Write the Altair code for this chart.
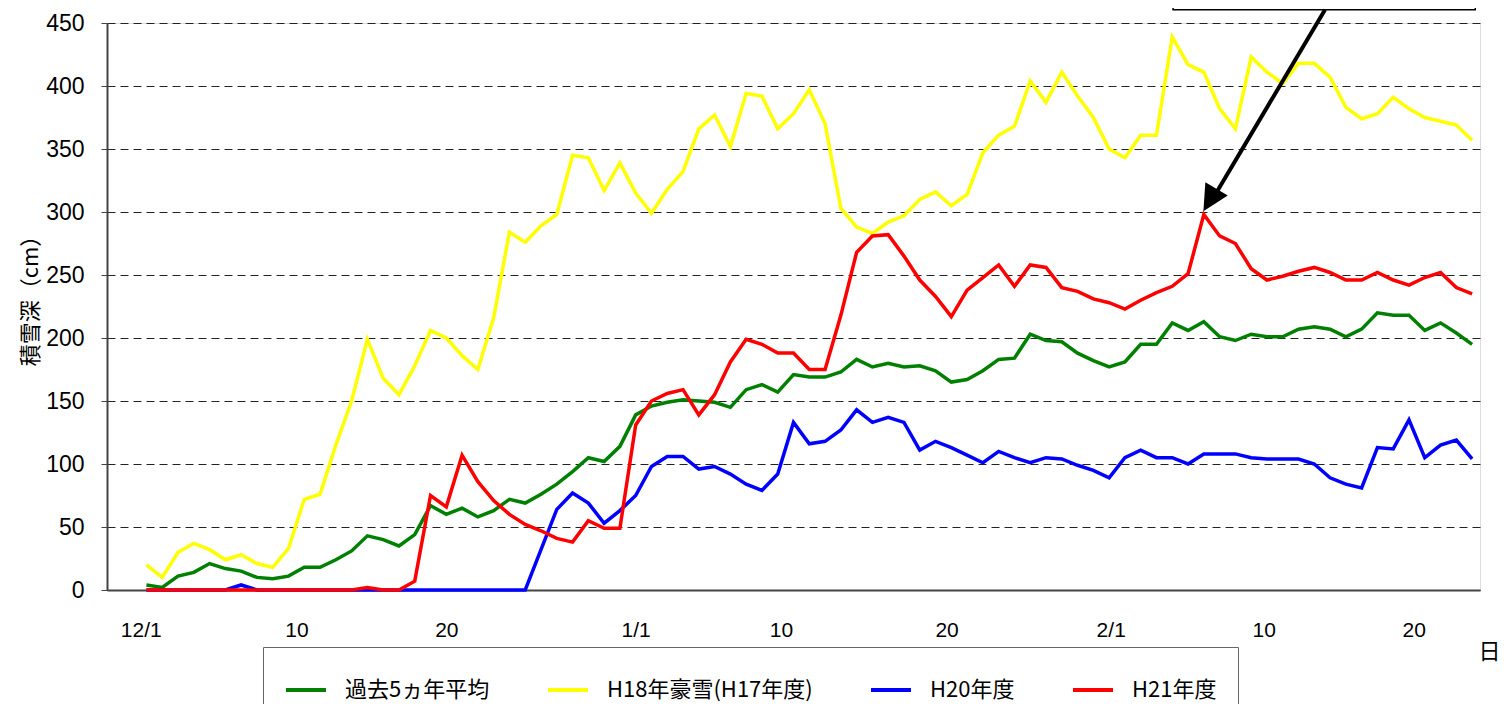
import altair as alt
import pandas as pd

# ---- data (daily snow depth, cm) : 12/1 ... 2/23 ----
series_names = ["過去5ヵ年平均", "H18年豪雪(H17年度)", "H20年度", "H21年度"]
series_colors = ["#008000", "#FFFF00", "#0000FF", "#FF0000"]

avg5 = [4, 2, 11, 14, 21, 17, 15, 10, 9, 11,
        18, 18, 24, 31, 43, 40, 35, 44, 67, 60,
        65, 58, 63, 72, 69, 76, 84, 94, 105, 102,
        114, 139, 146, 149, 151, 150, 149, 145, 159, 163,
        157, 171, 169, 169, 173, 183, 177, 180, 177, 178,
        174, 165, 167, 174, 183, 184, 203, 198, 197, 188,
        182, 177, 181, 195, 195, 212, 206, 213, 201, 198,
        203, 201, 201, 207, 209, 207, 201, 207, 220, 218,
        218, 206, 212, 204, 195]

h18 = [20, 10, 30, 37, 32, 24, 28, 21, 18, 33,
       72, 76, 115, 150, 199, 168, 155, 178, 206, 200,
       186, 175, 216, 284, 276, 289, 298, 345, 343, 317,
       339, 315, 299, 318, 332, 366, 377, 352, 394, 392,
       366, 378, 397, 370, 303, 288, 283, 292, 297, 310,
       316, 305, 314, 347, 361, 368, 404, 387, 411, 392,
       375, 350, 343, 361, 361, 439, 417, 411, 382, 366,
       423, 411, 402, 418, 418, 407, 383, 374, 378, 391,
       382, 375, 372, 369, 357]

h20 = [0, 0, 0, 0, 0, 0, 4, 0, 0, 0,
       0, 0, 0, 0, 0, 0, 0, 0, 0, 0,
       0, 0, 0, 0, 0, 32, 64, 77, 69, 53,
       63, 75, 98, 106, 106, 96, 98, 92, 84, 79,
       92, 133, 116, 118, 127, 143, 133, 137, 133, 111,
       118, 113, 107, 101, 110, 105, 101, 105, 104, 99,
       95, 89, 105, 111, 105, 105, 100, 108, 108, 108,
       105, 104, 104, 104, 100, 89, 84, 81, 113, 112,
       135, 105, 115, 119, 104]

h21 = [0, 0, 0, 0, 0, 0, 0, 0, 0, 0,
       0, 0, 0, 0, 2, 0, 0, 7, 75, 66,
       107, 86, 71, 60, 52, 47, 41, 38, 55, 49,
       49, 131, 150, 156, 159, 139, 155, 181, 199, 195,
       188, 188, 175, 175, 218, 268, 281, 282, 265, 246,
       233, 217, 238, 248, 258, 241, 258, 256, 240, 237,
       231, 228, 223, 230, 236, 241, 251, 298, 281, 275,
       255, 246, 249, 253, 256, 252, 246, 246, 252, 246,
       242, 248, 252, 240, 235]

days = list(range(len(avg5)))          # day index, 0 = 12/1

# x-axis tick labels and where they sit (day index)
tick_text = ["12/1", "10", "20", "1/1", "10", "20", "2/1", "10", "20"]
tick_pos = [-0.36, 9.5, 19.0, 31.0, 40.2, 50.7, 61.1, 70.8, 80.3]
y_ticks = [0, 50, 100, 150, 200, 250, 300, 350, 400, 450]

# annotation (callout box + arrow to the 298 cm peak)
box_x = [65.05, 84.2]
box_y = [460.5, 500.0]
arrow_x = [74.68, 67.8]
arrow_y = [460.5, 315.5]
head_x = [67.39]
head_y = [309.4]
head_angle = 210.5

# ---- build tables ----
rows = []
for name, vals in zip(series_names, [avg5, h18, h20, h21]):
    for d, v in zip(days, vals):
        rows.append({"day": d, "depth": v, "series": name})
df = pd.DataFrame(rows)

label_expr = "[" + ",".join("'" + t + "'" for t in tick_text) + "][indexof([" + \
    ",".join(str(p) for p in tick_pos) + "], datum.value)]"

JP = "Noto Sans CJK JP"
NUM = "Liberation Sans"

x_enc = alt.X("day:Q",
              scale=alt.Scale(domain=[-2.5, 84.5], nice=False, zero=False),
              axis=alt.Axis(values=tick_pos, labelExpr=label_expr, grid=False,
                            ticks=False, domainColor="#444", domainWidth=2,
                            labelFont=NUM, labelFontSize=21, labelColor="#000",
                            labelPadding=29, labelFlush=False, labelOverlap=False,
                            title="日", titleFont=JP, titleFontSize=22,
                            titleFontWeight="normal", titleColor="#000",
                            titleX=1371, titleY=61, titleAlign="left",
                            titleBaseline="middle"))
y_enc = alt.Y("depth:Q",
              scale=alt.Scale(domain=[0, 450], nice=False),
              axis=alt.Axis(values=y_ticks, grid=True, gridDash=[8, 5],
                            gridColor="#222", gridWidth=1, tickSize=6,
                            tickColor="#444", domainColor="#444", domainWidth=2,
                            labelFont=NUM, labelFontSize=23, labelColor="#000",
                            labelPadding=17,
                            title="積雪深（cm）", titleFont=JP, titleFontSize=22,
                            titleFontWeight="normal", titleColor="#000",
                            titleAngle=270, titleX=-77, titleY=272,
                            titleAlign="center", titleBaseline="middle"))
color_enc = alt.Color("series:N",
                      scale=alt.Scale(domain=series_names, range=series_colors),
                      legend=alt.Legend(orient="none", legendX=156, legendY=624,
                                        direction="horizontal", columns=4,
                                        title=None, symbolType="stroke",
                                        symbolSize=1600, symbolStrokeWidth=4,
                                        labelFont=JP, labelFontSize=22,
                                        labelColor="#000", labelLimit=400,
                                        labelOffset=17, columnPadding=50,
                                        padding=21, strokeColor="#666",
                                        fillColor="#ffffff"))

layers = []
for i, name in enumerate(series_names):
    layer = alt.Chart(df).transform_filter(
        alt.datum.series == name
    ).mark_line(strokeWidth=3.5, clip=False).encode(
        x=x_enc if i == 0 else alt.X("day:Q"),
        y=y_enc if i == 0 else alt.Y("depth:Q"),
        color=color_enc,
        order="day:Q",
    )
    layers.append(layer)

box_df = pd.DataFrame({"x": [box_x[0]], "x2": [box_x[1]], "y": [box_y[0]], "y2": [box_y[1]]})
box = alt.Chart(box_df).mark_rect(fill="white", stroke="#000", strokeWidth=1.5,
                                  clip=False).encode(
    x="x:Q", x2="x2:Q", y="y:Q", y2="y2:Q")

arrow_df = pd.DataFrame({"x": arrow_x, "y": arrow_y, "o": [0, 1]})
arrow = alt.Chart(arrow_df).mark_line(color="#000", strokeWidth=4, clip=False).encode(
    x="x:Q", y="y:Q", order="o:Q")

head_df = pd.DataFrame({"x": head_x, "y": head_y})
head = alt.Chart(head_df).mark_point(shape="M0,-1L1,1L-1,1Z", filled=True,
                                     color="#000", opacity=1, size=676,
                                     angle=head_angle, clip=False).encode(
    x="x:Q", y="y:Q")

chart = alt.layer(*layers, box, arrow, head).properties(
    width=1373, height=567,
    autosize=alt.AutoSizeParams(type="none"),
    padding={"left": 99, "top": 15, "right": 23, "bottom": 114},
).configure_view(stroke="#222", strokeWidth=1.2).configure(background="white")

chart.save("out.html", embed_options={"renderer": "svg", "actions": False})
